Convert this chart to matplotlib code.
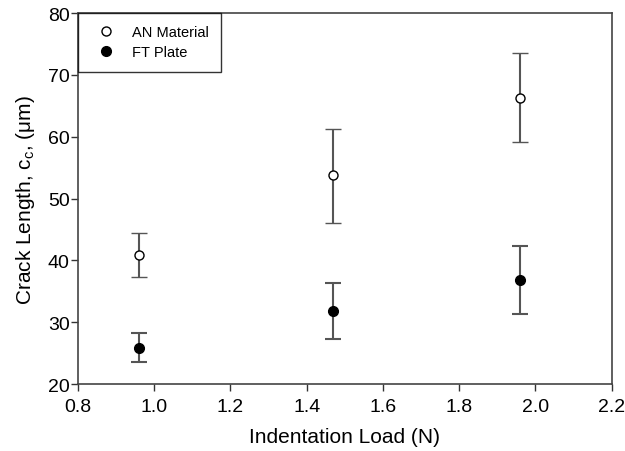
import matplotlib
matplotlib.use("Agg")
import matplotlib.pyplot as plt
import numpy as np

plt.rcParams['font.family'] = ['Liberation Sans', 'DejaVu Sans']
plt.rcParams['mathtext.fontset'] = 'custom'
plt.rcParams['mathtext.rm'] = 'Liberation Sans'

load = [0.96, 1.47, 1.96]
an_mean = [40.8, 53.8, 66.3]
an_low = [37.3, 46.1, 59.1]
an_high = [44.4, 61.3, 73.5]
ft_mean = [25.9, 31.8, 36.9]
ft_low = [23.6, 27.3, 31.4]
ft_high = [28.3, 36.3, 42.3]

xticks = [0.8, 1.0, 1.2, 1.4, 1.6, 1.8, 2.0, 2.2]
yticks = [20, 30, 40, 50, 60, 70, 80]

fig = plt.figure(figsize=(6.25, 4.52), dpi=100)
ax = fig.add_axes([0.1248, 0.148, 0.854, 0.821])

def err(mean, low, high):
    m = np.array(mean); return [m - np.array(low), np.array(high) - m]

ax.errorbar(load, an_mean, yerr=err(an_mean, an_low, an_high), fmt='o', mfc='white',
            mec='black', mew=1.0, ms=6.5, ecolor='#555555', elinewidth=1.5, capsize=5.5,
            capthick=1.5, label='AN Material', zorder=3)
ax.errorbar(load, ft_mean, yerr=err(ft_mean, ft_low, ft_high), fmt='o', mfc='black',
            mec='black', ms=7, ecolor='#555555', elinewidth=1.5, capsize=5.5,
            capthick=1.5, label='FT Plate', zorder=3)

ax.set_xlim(0.8, 2.2)
ax.set_ylim(20, 80)
ax.set_xticks(xticks)
ax.set_yticks(yticks)
ax.set_xticklabels([f"{v:.1f}" for v in xticks])
ax.set_yticklabels([str(v) for v in yticks])
ax.tick_params(direction='out', length=5, width=1, labelsize=14, colors='#333333',
               labelcolor='black', top=False, right=False)
ax.tick_params(axis='x', pad=5)
ax.tick_params(axis='y', pad=1)
for s in ax.spines.values():
    s.set_color('#444444')
    s.set_linewidth(1.2)

ax.set_xlabel('Indentation Load (N)', fontsize=15, labelpad=9)
ax.set_ylabel(r'Crack Length, c$_\mathregular{c}$, (μm)', fontsize=15, labelpad=8)

handles, labels = ax.get_legend_handles_labels()
handles = [h[0] for h in handles]
leg = ax.legend(handles, labels, loc='upper left', fontsize=10.5, frameon=True, fancybox=False,
                edgecolor='black', borderaxespad=0, handletextpad=0.75, borderpad=0.85,
                handlelength=2.1, labelspacing=0.4)
leg.get_frame().set_linewidth(1.0)

fig.savefig('out.png', dpi=100)
